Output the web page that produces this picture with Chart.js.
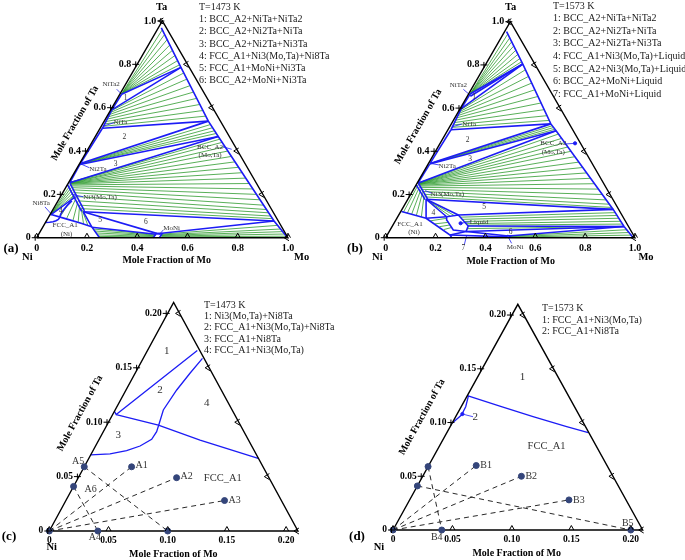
<!DOCTYPE html>
<html>
<head>
<meta charset="utf-8">
<script src="https://cdn.jsdelivr.net/npm/chart.js@4.4.0/dist/chart.umd.min.js"></script>
<style>
  body { margin: 0; background: #fff; width: 685px; height: 560px; position: relative; overflow: hidden; }
  canvas { position: absolute; }
</style>
</head>
<body>
<canvas id="pa" width="342" height="290" style="left:0;top:0"></canvas>
<canvas id="pb" width="345" height="290" style="left:340px;top:0"></canvas>
<canvas id="pc" width="342" height="270" style="left:0;top:290px"></canvas>
<canvas id="pd" width="345" height="270" style="left:340px;top:290px"></canvas>
<script>
// all compositions are [x(Mo), x(Ta)]; x(Ni) is the rest

// ---------- (a) 1473 K, whole triangle ----------
const aLegend = ['T=1473 K', '1: BCC_A2+NiTa+NiTa2', '2: BCC_A2+Ni2Ta+NiTa', '3: BCC_A2+Ni2Ta+Ni3Ta',
  '4: FCC_A1+Ni3(Mo,Ta)+Ni8Ta', '5: FCC_A1+MoNi+Ni3Ta', '6: BCC_A2+MoNi+Ni3Ta'];
const aBccBoundary = [[0.012, 0.968], [0.181, 0.786], [0.414, 0.538], [0.489, 0.467], [0.906, 0.077], [0.996, 0.002]];
const aPhaseLines = [
  [[0.007, 0.662], [0.181, 0.786]],
  [[0.004, 0.59], [0.181, 0.786]],
  [[0.007, 0.662], [0.004, 0.59], [0.009, 0.505]],
  [[0.009, 0.505], [0.414, 0.538]],
  [[0.003, 0.342], [0.414, 0.538]],
  [[0.003, 0.338], [0.489, 0.467]],
  [[0.009, 0.505], [0.003, 0.342]],
  [[0.003, 0.338], [0.005, 0.254]],
  [[0.005, 0.254], [0.489, 0.467]],
  [[0.0, 0.245], [0.118, 0.122]],
  [[0.006, 0.252], [0.128, 0.124]],
  [[0.125, 0.12], [0.193, 0.051], [0.25, 0.0]],
  [[0.125, 0.12], [0.906, 0.077]],
  [[0.125, 0.12], [0.467, 0.02]],
  [[0.47, 0.018], [0.906, 0.077]],
  [[0.195, 0.048], [0.467, 0.016]],
  [[0.463, 0.0], [0.467, 0.02], [0.49, 0.018], [0.488, 0.0]],
  [[0.0, 0.112], [0.004, 0.107], [0.06, 0.19]],
  [[0.004, 0.107], [0.07, 0.088], [0.143, 0.067], [0.193, 0.051]],
  [[0.0, 0.07], [0.016, 0.071], [0.028, 0.074], [0.038, 0.078], [0.044, 0.084], [0.045, 0.091], [0.043, 0.1],
   [0.041, 0.112], [0.043, 0.13], [0.047, 0.148], [0.055, 0.17]]
];
const aTieLines = [
  [[0.006, 0.664], [0.02, 0.959]], [[0.006, 0.664], [0.04, 0.938]], [[0.006, 0.664], [0.062, 0.914]],
  [[0.006, 0.664], [0.085, 0.889]], [[0.006, 0.664], [0.108, 0.865]], [[0.006, 0.664], [0.13, 0.841]],
  [[0.006, 0.664], [0.152, 0.817]], [[0.006, 0.664], [0.17, 0.798]],
  [[0.004, 0.586], [0.205, 0.76]], [[0.005, 0.578], [0.232, 0.732]], [[0.005, 0.568], [0.26, 0.702]],
  [[0.006, 0.558], [0.288, 0.672]], [[0.006, 0.547], [0.315, 0.643]], [[0.007, 0.536], [0.342, 0.615]],
  [[0.008, 0.525], [0.368, 0.587]], [[0.008, 0.514], [0.392, 0.561]],
  [[0.003, 0.341], [0.43, 0.522]], [[0.003, 0.341], [0.445, 0.507]], [[0.003, 0.34], [0.46, 0.493]],
  [[0.003, 0.34], [0.474, 0.481]],
  [[0.004, 0.255], [0.502, 0.455]], [[0.004, 0.255], [0.518, 0.44]], [[0.005, 0.254], [0.539, 0.42]],
  [[0.005, 0.254], [0.561, 0.4]], [[0.006, 0.253], [0.587, 0.375]], [[0.006, 0.252], [0.614, 0.35]],
  [[0.007, 0.251], [0.641, 0.325]], [[0.008, 0.25], [0.668, 0.3]], [[0.01, 0.248], [0.694, 0.275]],
  [[0.013, 0.244], [0.721, 0.25]], [[0.018, 0.239], [0.748, 0.225]], [[0.025, 0.231], [0.774, 0.2]],
  [[0.034, 0.221], [0.801, 0.175]], [[0.046, 0.208], [0.828, 0.15]], [[0.062, 0.19], [0.849, 0.13]],
  [[0.08, 0.17], [0.865, 0.115]], [[0.098, 0.15], [0.881, 0.1]], [[0.112, 0.134], [0.894, 0.088]],
  [[0.485, 0.016], [0.93, 0.057]], [[0.487, 0.013], [0.95, 0.04]], [[0.49, 0.01], [0.965, 0.028]],
  [[0.492, 0.007], [0.978, 0.017]], [[0.495, 0.004], [0.99, 0.007]],
  [[0.205, 0.04], [0.466, 0.015]], [[0.215, 0.031], [0.466, 0.012]], [[0.225, 0.022], [0.466, 0.009]],
  [[0.235, 0.013], [0.466, 0.006]], [[0.243, 0.006], [0.466, 0.003]],
  [[0.05, 0.2], [0.045, 0.095]], [[0.065, 0.185], [0.075, 0.087]], [[0.08, 0.168], [0.105, 0.078]],
  [[0.095, 0.152], [0.13, 0.07]], [[0.108, 0.138], [0.155, 0.063]], [[0.118, 0.127], [0.175, 0.057]],
  [[0.003, 0.11], [0.012, 0.242]], [[0.003, 0.11], [0.022, 0.232]], [[0.003, 0.11], [0.032, 0.222]],
  [[0.003, 0.11], [0.042, 0.21]], [[0.003, 0.11], [0.052, 0.198]]
];
const aPhaseNames = [['NiTa2', -0.058, 0.708], ['NiTa', 0.068, 0.531], ['Ni2Ta', 0.085, 0.317],
  ['Ni3(Mo,Ta)', 0.159, 0.186], ['Ni8Ta', -0.062, 0.159], ['FCC_A1', 0.085, 0.057], ['(Ni)', 0.11, 0.017],
  ['BCC_A2', 0.48, 0.42], ['(Mo,Ta)', 0.5, 0.38], ['MoNi', 0.514, 0.046]];
const aPointers = [[[-0.024, 0.685], [0.007, 0.662]], [[0.043, 0.531], [0.008, 0.515]], [[0.048, 0.323], [0.006, 0.34]],
  [[0.091, 0.189], [0.039, 0.2]], [[-0.038, 0.142], [0.0, 0.112]], [[0.53, 0.42], [0.572, 0.408]],
  [[0.486, 0.036], [0.48, 0.012]]];
const aRegionNums = [['1', 0.031, 0.646], ['2', 0.117, 0.463], ['3', 0.144, 0.341], ['4', 0.035, 0.123],
  ['5', 0.211, 0.082], ['6', 0.397, 0.074]];

// ---------- (b) 1573 K, whole triangle ----------
const bLegend = ['T=1573 K', '1: BCC_A2+NiTa+NiTa2', '2: BCC_A2+Ni2Ta+NiTa', '3: BCC_A2+Ni2Ta+Ni3Ta',
  '4: FCC_A1+Ni3(Mo,Ta)+Liquid', '5: BCC_A2+Ni3(Mo,Ta)+Liquid', '6: BCC_A2+MoNi+Liquid', '7: FCC_A1+MoNi+Liquid'];
const bBccBoundary = [[0.008, 0.954], [0.148, 0.804], [0.399, 0.527], [0.436, 0.495], [0.847, 0.131], [0.93, 0.052], [0.993, 0.0]];
const bPhaseLines = [
  [[0.006, 0.665], [0.148, 0.804]],
  [[0.012, 0.655], [0.148, 0.804]],
  [[0.004, 0.598], [0.148, 0.804]],
  [[0.006, 0.665], [0.004, 0.598], [0.012, 0.5]],
  [[0.012, 0.5], [0.399, 0.527]],
  [[0.006, 0.344], [0.399, 0.527]],
  [[0.006, 0.341], [0.436, 0.495]],
  [[0.003, 0.252], [0.436, 0.495]],
  [[0.012, 0.5], [0.006, 0.344]],
  [[0.006, 0.341], [0.003, 0.252]],
  [[0.0, 0.245], [0.07, 0.176]],
  [[0.005, 0.252], [0.078, 0.18]],
  [[0.073, 0.178], [0.847, 0.131]],
  [[0.073, 0.178], [0.117, 0.09]],
  [[0.117, 0.09], [0.196, 0.097]],
  [[0.073, 0.178], [0.196, 0.097]],
  [[0.073, 0.178], [0.239, 0.105]],
  [[0.239, 0.105], [0.847, 0.131]],
  [[0.196, 0.097], [0.239, 0.105], [0.304, 0.054], [0.308, 0.029], [0.253, 0.036], [0.204, 0.082], [0.196, 0.097]],
  [[0.304, 0.054], [0.93, 0.052]],
  [[0.308, 0.029], [0.93, 0.052]],
  [[0.308, 0.029], [0.488, 0.008]],
  [[0.488, 0.008], [0.93, 0.052]],
  [[0.003, 0.121], [0.117, 0.09]],
  [[0.117, 0.09], [0.252, 0.0125], [0.265, 0.0]],
  [[0.252, 0.0125], [0.485, 0.004]],
  [[0.252, 0.0125], [0.308, 0.029]],
  [[0.478, 0.0], [0.484, 0.01], [0.496, 0.008], [0.495, 0.0]]
];
const bTieLines = [
  [[0.006, 0.665], [0.018, 0.943]], [[0.006, 0.665], [0.035, 0.925]], [[0.006, 0.665], [0.052, 0.907]],
  [[0.006, 0.665], [0.07, 0.888]], [[0.006, 0.665], [0.088, 0.868]], [[0.006, 0.665], [0.106, 0.849]],
  [[0.006, 0.665], [0.124, 0.83]], [[0.006, 0.665], [0.138, 0.815]],
  [[0.004, 0.592], [0.172, 0.778]], [[0.005, 0.584], [0.2, 0.747]], [[0.005, 0.575], [0.228, 0.716]],
  [[0.006, 0.565], [0.256, 0.685]], [[0.007, 0.555], [0.284, 0.654]], [[0.008, 0.544], [0.312, 0.624]],
  [[0.009, 0.533], [0.34, 0.593]], [[0.01, 0.522], [0.365, 0.565]], [[0.011, 0.511], [0.385, 0.543]],
  [[0.006, 0.343], [0.408, 0.518]], [[0.006, 0.343], [0.418, 0.51]], [[0.006, 0.342], [0.427, 0.502]],
  [[0.003, 0.253], [0.453, 0.48]], [[0.003, 0.253], [0.476, 0.46]], [[0.003, 0.252], [0.498, 0.44]],
  [[0.004, 0.252], [0.521, 0.42]], [[0.004, 0.251], [0.543, 0.4]], [[0.005, 0.25], [0.571, 0.375]],
  [[0.006, 0.249], [0.6, 0.35]], [[0.007, 0.248], [0.628, 0.325]], [[0.009, 0.246], [0.656, 0.3]],
  [[0.012, 0.243], [0.684, 0.275]], [[0.016, 0.239], [0.713, 0.25]], [[0.022, 0.233], [0.741, 0.225]],
  [[0.03, 0.224], [0.769, 0.2]], [[0.04, 0.214], [0.797, 0.175]], [[0.052, 0.201], [0.82, 0.155]],
  [[0.063, 0.189], [0.837, 0.14]],
  [[0.252, 0.095], [0.862, 0.116]], [[0.265, 0.085], [0.875, 0.103]], [[0.278, 0.075], [0.889, 0.09]],
  [[0.29, 0.065], [0.903, 0.076]], [[0.3, 0.058], [0.916, 0.063]], [[0.306, 0.042], [0.93, 0.052]],
  [[0.49, 0.007], [0.95, 0.037]], [[0.492, 0.005], [0.965, 0.024]], [[0.494, 0.003], [0.98, 0.012]],
  [[0.008, 0.245], [0.012, 0.118]], [[0.018, 0.235], [0.03, 0.113]], [[0.03, 0.223], [0.05, 0.107]],
  [[0.043, 0.21], [0.072, 0.101]], [[0.056, 0.196], [0.095, 0.096]],
  [[0.14, 0.078], [0.2, 0.09]], [[0.165, 0.064], [0.215, 0.071]], [[0.19, 0.051], [0.228, 0.059]],
  [[0.215, 0.038], [0.24, 0.047]],
  [[0.073, 0.178], [0.21, 0.099]], [[0.073, 0.178], [0.225, 0.102]]
];
const bPhaseNames = [['NiTa2', -0.062, 0.707], ['NiTa', 0.072, 0.526], ['Ni2Ta', 0.081, 0.332],
  ['Ni3(Mo,Ta)', 0.146, 0.202], ['FCC_A1', 0.066, 0.063], ['(Ni)', 0.101, 0.025], ['BCC_A2', 0.454, 0.437],
  ['(Mo,Ta)', 0.473, 0.398], ['Liquid', 0.338, 0.074], ['MoNi', 0.54, -0.042]];
const bPointers = [[[-0.032, 0.687], [0.013, 0.657]], [[0.042, 0.526], [0.012, 0.514]], [[0.045, 0.337], [0.008, 0.344]],
  [[0.082, 0.206], [0.049, 0.218]], [[0.506, 0.434], [0.541, 0.437]], [[0.304, 0.074], [0.267, 0.067]],
  [[0.518, -0.026], [0.491, 0.002]], [[0.332, -0.034], [0.319, 0.0125]]];
const bPointerDots = [[0.541, 0.437], [0.267, 0.067]];
const bRegionNums = [['1', 0.028, 0.653], ['2', 0.103, 0.452], ['3', 0.157, 0.363], ['4', 0.133, 0.116],
  ['5', 0.324, 0.141], ['6', 0.489, 0.025], ['7', 0.336, -0.049]];

// ---------- (c) 1473 K, Ni corner ----------
const cLegend = ['T=1473 K', '1: Ni3(Mo,Ta)+Ni8Ta', '2: FCC_A1+Ni3(Mo,Ta)+Ni8Ta', '3: FCC_A1+Ni8Ta', '4: FCC_A1+Ni3(Mo,Ta)'];
const cPhaseLines = [
  [[0.0, 0.11], [0.003, 0.107], [0.042, 0.166]],
  [[0.003, 0.107], [0.0434, 0.0974], [0.0855, 0.0836], [0.143, 0.0668]],
  [[0.0, 0.0699], [0.0159, 0.0708], [0.0284, 0.0738], [0.0376, 0.0781], [0.0443, 0.0843], [0.045, 0.0913],
   [0.0434, 0.099], [0.0407, 0.1112], [0.0428, 0.1296], [0.0463, 0.145], [0.05, 0.1587]]
];
const cSampleNames = ['A1', 'A2', 'A3', 'A4', 'A5', 'A6'];
const cSampleMo = [0.04, 0.083, 0.134, 0.041, 0.0, 0.0];
const cSampleTa = [0.059, 0.049, 0.028, 0.0, 0.059, 0.041];
const cExtraPoints = [[0.1, 0.0], [0.0, 0.0]];
const cDashed = [[[0, 0], [0.04, 0.059]], [[0, 0], [0.083, 0.049]], [[0, 0], [0.134, 0.028]],
  [[0, 0.059], [0.1, 0]], [[0, 0.041], [0.041, 0]]];
const cPhaseNames = [['FCC_A1', 0.1223, 0.0484]];
const cRegionNums = [['1', 0.0165, 0.1654], ['2', 0.0287, 0.1296], ['3', 0.0142, 0.0882], ['4', 0.0742, 0.1174]];

// ---------- (d) 1573 K, Ni corner ----------
const dLegend = ['T=1573 K', '1: FCC_A1+Ni3(Mo,Ta)', '2: FCC_A1+Ni8Ta'];
const dPhaseLines = [
  [[0.0, 0.125], [0.0322, 0.1153], [0.0651, 0.1054], [0.098, 0.0961], [0.119, 0.0905]],
  [[0.001, 0.125], [0.0038, 0.1147], [0.0041, 0.107], [0.0, 0.0993]]
];
const dPointers = [[[0.0044, 0.1079], [0.0146, 0.1054]]];
const dPointerDots = [[0.0044, 0.1079]];
const dSampleNames = ['B1', 'B2', 'B3', 'B4', 'B5'];
const dSampleMo = [0.04, 0.083, 0.134, 0.041, 0.2];
const dSampleTa = [0.06, 0.05, 0.028, 0.0, 0.0];
const dExtraPoints = [[0.0, 0.059], [0.0, 0.041], [0.0, 0.0]];
const dDashed = [[[0, 0], [0.04, 0.06]], [[0, 0], [0.083, 0.05]], [[0, 0], [0.134, 0.028]],
  [[0, 0.059], [0.041, 0]], [[0, 0.041], [0.2, 0]]];
const dPhaseNames = [['FCC_A1', 0.0904, 0.0775]];
const dRegionNums = [['1', 0.038, 0.142], ['2', 0.0168, 0.1049]];

// axis ticks
const fullTicks = [0, 0.2, 0.4, 0.6, 0.8, 1.0];
const fullTickText = ['0', '0.2', '0.4', '0.6', '0.8', '1.0'];
const zoomTicks = [0, 0.05, 0.10, 0.15, 0.20];
const zoomTickText = ['0', '0.05', '0.10', '0.15', '0.20'];

// ---------- drawing ----------
const BLUE = '#1c1cf5', GREEN = '#2f9a2f', SERIF = '"Liberation Serif", "Times New Roman", serif';

function tern(p) { return { x: p[0] + p[1] / 2, y: p[1] }; }

function lineSet(pts, color, width, order, dash) {
  return {
    data: pts.map(tern), showLine: true, borderColor: color, borderWidth: width,
    borderDash: dash || [], pointRadius: 0, pointHoverRadius: 0, tension: 0, order: order
  };
}

function dotSet(pts, color, r) {
  return {
    data: pts.map(tern), showLine: false, pointRadius: r, pointHoverRadius: r,
    pointBackgroundColor: color, pointBorderColor: color, order: -1
  };
}

function textPlugin(o) {
  return {
    id: 'panelText',
    afterDatasetsDraw(chart) {
      const ctx = chart.ctx, sx = chart.scales.x, sy = chart.scales.y;
      const P = (mo, ta) => [sx.getPixelForValue(mo + ta / 2), sy.getPixelForValue(ta)];
      ctx.save();
      ctx.strokeStyle = '#000';
      ctx.lineWidth = 1;
      // tick marks on the three sides
      o.ticks.forEach(t => {
        let [x, y] = P(t, 0);
        ctx.beginPath(); ctx.moveTo(x - 2.5, y); ctx.lineTo(x, y - 4.5); ctx.lineTo(x + 2.5, y); ctx.stroke();
        [x, y] = P(0, t);
        ctx.beginPath(); ctx.moveTo(x - 5, y); ctx.lineTo(x + 2, y);
        ctx.moveTo(x - 1.5, y - 3); ctx.lineTo(x - 1.5, y + 3); ctx.stroke();
        [x, y] = P(o.side - t, t);
        ctx.beginPath(); ctx.moveTo(x + 1, y - 3); ctx.lineTo(x - 4, y); ctx.lineTo(x + 1, y + 3); ctx.stroke();
      });
      // tick labels
      ctx.fillStyle = '#000';
      ctx.font = 'bold ' + o.tickFont + 'px ' + SERIF;
      ctx.textBaseline = 'middle';
      o.ticks.forEach((t, i) => {
        let [x, y] = P(t, 0);
        ctx.textAlign = 'center';
        ctx.fillText(o.tickText[i], x, y + o.tickGap);
        [x, y] = P(0, t);
        ctx.textAlign = 'right';
        ctx.fillText(o.tickText[i], x - 6, y);
      });
      // axis titles
      ctx.font = 'bold 10.5px ' + SERIF;
      ctx.textAlign = 'center';
      o.corners.forEach(c => ctx.fillText(c[0], c[1], c[2]));
      ctx.font = 'bold 10px ' + SERIF;
      ctx.fillText('Mole Fraction of Mo', o.moTitle[0], o.moTitle[1]);
      const [x0, y0] = P(0, 0), [x1, y1] = P(0, o.side);
      ctx.save();
      ctx.translate(o.taTitle[0], o.taTitle[1]);
      ctx.rotate(Math.atan2(y1 - y0, x1 - x0));
      ctx.fillText('Mole Fraction of Ta', 0, 0);
      ctx.restore();
      ctx.font = 'bold 13px ' + SERIF;
      ctx.fillText(o.tag, o.tagPos[0], o.tagPos[1]);
      // legend block
      ctx.font = '10px ' + SERIF;
      ctx.textAlign = 'left';
      ctx.fillStyle = '#1a1a1a';
      o.legend.forEach((s, i) => ctx.fillText(s, o.legendPos[0], o.legendPos[1] + i * o.legendPos[2]));
      // phase names and region numbers
      ctx.textAlign = 'center';
      ctx.fillStyle = '#333';
      ctx.font = o.nameFont + 'px ' + SERIF;
      o.names.forEach(n => { const [x, y] = P(n[1], n[2]); ctx.fillText(n[0], x, y); });
      ctx.font = o.numFont + 'px ' + SERIF;
      o.nums.forEach(n => { const [x, y] = P(n[1], n[2]); ctx.fillText(n[0], x, y); });
      // sample labels
      if (o.samples) {
        ctx.font = '10px ' + SERIF;
        o.samples.names.forEach((s, i) => {
          const [x, y] = P(o.samples.mo[i], o.samples.ta[i]);
          const off = o.samples.offsets[i];
          ctx.textAlign = off[2];
          ctx.fillText(s, x + off[0], y + off[1]);
        });
      }
      ctx.restore();
    }
  };
}

function ternary(id, o) {
  const ds = [];
  ds.push(lineSet([[0, 0], [o.side, 0], [0, o.side], [0, 0]], '#000', 1.4, 0));
  (o.bcc ? [o.bcc] : []).concat(o.phase).forEach(l => ds.push(lineSet(l, BLUE, o.blueWidth, 1)));
  (o.pointers || []).forEach(l => ds.push(lineSet(l, BLUE, 0.8, 1)));
  (o.ties || []).forEach(l => ds.push(lineSet(l, GREEN, 0.8, 2)));
  (o.dashed || []).forEach(l => ds.push(lineSet(l, '#111', 0.9, 1, [5, 4])));
  if (o.pointerDots) ds.push(dotSet(o.pointerDots, BLUE, 1.6));
  if (o.samples) {
    const pts = o.samples.mo.map((m, i) => [m, o.samples.ta[i]]).concat(o.extra);
    ds.push(dotSet(pts, '#34457a', 3));
  }
  new Chart(document.getElementById(id), {
    type: 'scatter',
    data: { datasets: ds },
    options: {
      responsive: false, animation: false, events: [],
      layout: { padding: 0, autoPadding: false },
      plugins: { legend: { display: false }, tooltip: { enabled: false } },
      scales: {
        x: { type: 'linear', display: false, min: o.xr[0], max: o.xr[1] },
        y: { type: 'linear', display: false, min: o.yr[0], max: o.yr[1] }
      }
    },
    plugins: [textPlugin(o)]
  });
}

ternary('pa', {
  side: 1, xr: [-0.146, 1.2149], yr: [-0.2413, 1.0969],
  bcc: aBccBoundary, phase: aPhaseLines, ties: aTieLines, pointers: aPointers, blueWidth: 1.6,
  ticks: fullTicks, tickText: fullTickText, tickFont: 10, tickGap: 10.5,
  corners: [['Ta', 161.7, 7], ['Ni', 27.3, 257], ['Mo', 301.7, 257]],
  moTitle: [166.7, 260], taTitle: [75, 123.3], tag: '(a)', tagPos: [11, 249],
  legend: aLegend, legendPos: [199, 7, 12.3],
  names: aPhaseNames, nums: aRegionNums, nameFont: 7, numFont: 7.5
});

ternary('pb', {
  side: 1, xr: [-0.1833, 1.2006], yr: [-0.2421, 1.1005],
  bcc: bBccBoundary, phase: bPhaseLines, ties: bTieLines, pointers: bPointers, pointerDots: bPointerDots,
  blueWidth: 1.6, ticks: fullTicks, tickText: fullTickText, tickFont: 10, tickGap: 10.5,
  corners: [['Ta', 170.7, 7], ['Ni', 37.3, 257], ['Mo', 306, 257]],
  moTitle: [170.7, 261.7], taTitle: [78.3, 126.7], tag: '(b)', tagPos: [15, 249],
  legend: bLegend, legendPos: [213, 6, 12.6],
  names: bPhaseNames, nums: bRegionNums, nameFont: 7, numFont: 7.5
});

ternary('pc', {
  side: 0.21, xr: [-0.04164, 0.2472], yr: [-0.02665, 0.2215],
  phase: cPhaseLines, dashed: cDashed, blueWidth: 1.3,
  ticks: zoomTicks, tickText: zoomTickText, tickFont: 9.5, tickGap: 10,
  corners: [['Ni', 51.7, 257]],
  moTitle: [173.3, 264], taTitle: [80, 123.3], tag: '(c)', tagPos: [9, 247],
  legend: cLegend, legendPos: [204, 15, 11.3],
  names: cPhaseNames, nums: cRegionNums, nameFont: 10.5, numFont: 11,
  samples: { names: cSampleNames, mo: cSampleMo, ta: cSampleTa,
    offsets: [[4, -1, 'left'], [4, -1, 'left'], [4, 0, 'left'], [-3, 6, 'center'], [-6, -5, 'center'], [17, 3, 'center']] },
  extra: cExtraPoints
});

ternary('pd', {
  side: 0.21, xr: [-0.04458, 0.2456], yr: [-0.0279, 0.2233],
  phase: dPhaseLines, dashed: dDashed, pointers: dPointers, pointerDots: dPointerDots, blueWidth: 1.3,
  ticks: zoomTicks, tickText: zoomTickText, tickFont: 9.5, tickGap: 10,
  corners: [['Ni', 39, 257]],
  moTitle: [176.7, 263.3], taTitle: [82, 127], tag: '(d)', tagPos: [17, 247],
  legend: dLegend, legendPos: [202, 18.3, 11.7],
  names: dPhaseNames, nums: dRegionNums, nameFont: 10.5, numFont: 11,
  samples: { names: dSampleNames, mo: dSampleMo, ta: dSampleTa,
    offsets: [[4, 0, 'left'], [4, 0, 'left'], [4, 0, 'left'], [-5, 7, 'center'], [-3, -7, 'center']] },
  extra: dExtraPoints
});
</script>
</body>
</html>
